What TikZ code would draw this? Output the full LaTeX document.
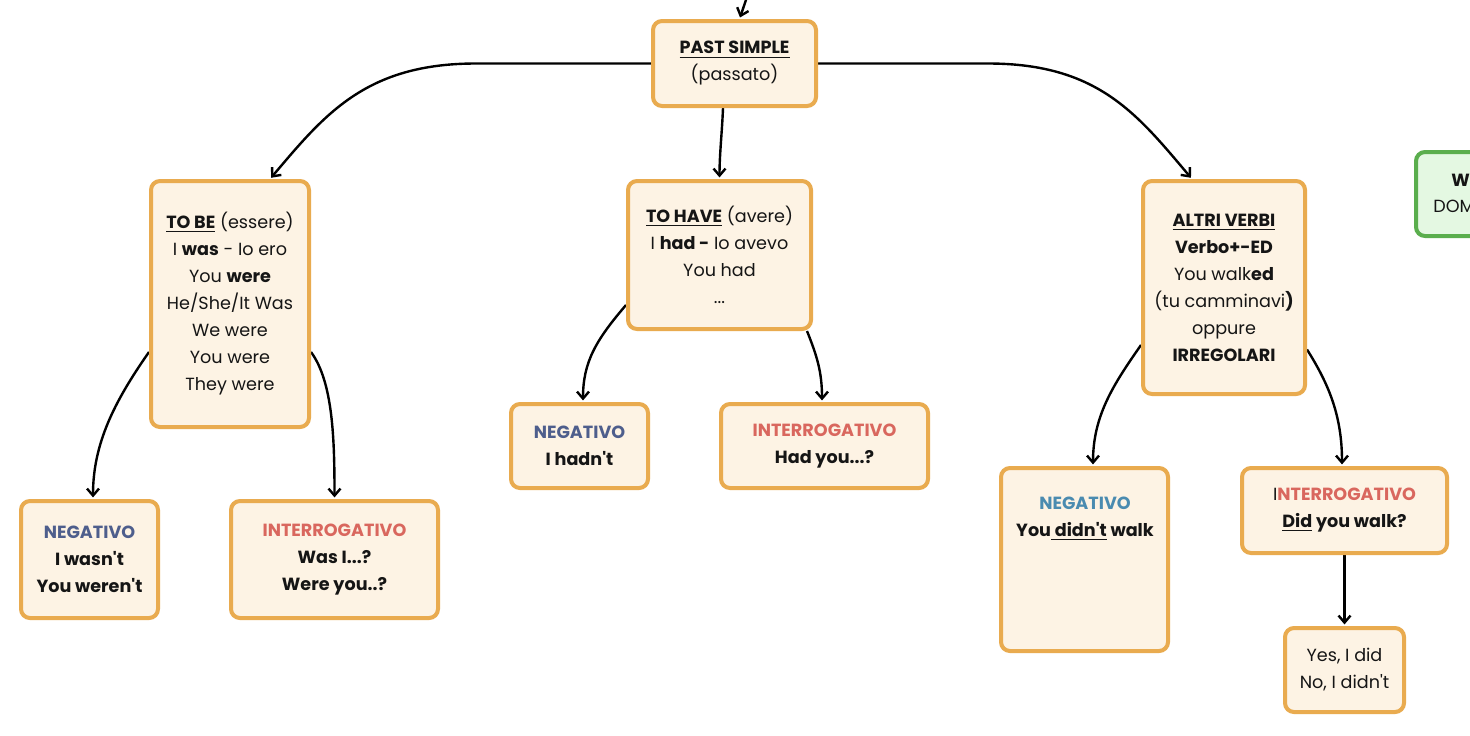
\documentclass[tikz,border=0pt]{standalone}
\usepackage{fontspec}
\setmainfont{Poppins}[Ligatures=TeXOff]
\usetikzlibrary{arrows.meta,backgrounds}
\definecolor{boxB}{HTML}{E9AB4F}
\definecolor{boxF}{HTML}{FDF3E4}
\definecolor{negA}{HTML}{4E5E8C}
\definecolor{negB}{HTML}{4A8BB0}
\definecolor{intR}{HTML}{D9675E}
\definecolor{grnB}{HTML}{5AAE4D}
\definecolor{grnF}{HTML}{E4F8E2}
\definecolor{txt}{HTML}{151515}
\tikzset{
  box/.style={draw=boxB, fill=boxF, line width=2pt, rounded corners=4.5pt, align=center, inner sep=0pt, text=txt,
    font=\fontsize{8.8pt}{13.5pt}\selectfont},
  gbox/.style={draw=grnB, fill=grnF, line width=2pt, rounded corners=4.5pt, inner sep=0pt},
  lbl/.style={inner sep=0pt, text=txt, font=\fontsize{8.8pt}{13.5pt}\selectfont, align=center},
  conn/.style={line width=1.2pt, -{Straight Barb[length=3.5pt,width=6pt]}, shorten >=0.8pt}
}
\newcommand{\ul}[1]{\underline{#1}}
\begin{document}
\begin{tikzpicture}[x=0.5pt,y=-0.5pt]
\useasboundingbox (0,0) rectangle (1470,735);
\begin{scope}
\clip (0,0) rectangle (1470,735);
\node[box, minimum width=81.5pt, minimum height=42.5pt] (past) at (734.5,63.5)
  {\ul{\textbf{PAST SIMPLE}}\\(passato)};
\node[box, minimum width=79pt, minimum height=123pt] (tobe) at (230,304)
  {\ul{\textbf{TO BE}} (essere)\\I \textbf{was} - Io ero\\You \textbf{were}\\He/She/It Was\\We were\\You were\\They were};
\node[box, minimum width=91.5pt, minimum height=74pt] (tohave) at (719.5,255)
  {\ul{\textbf{TO HAVE}} (avere)\\I \textbf{had -} Io avevo\\You had\\...};
\node[box, minimum width=81pt, minimum height=106.5pt] (altri) at (1224,287.5)
  {\ul{\textbf{ALTRI VERBI}}\\\textbf{Verbo+-ED}\\You walk\textbf{ed}\\(tu camminavi\textbf{)}\\oppure\\\textbf{IRREGOLARI}};
\node[gbox, minimum width=70pt, minimum height=42pt] (green) at (1486,194) {};
\node[lbl, anchor=west] (greenA) at (1451,180) {\textbf{W}};
\node[lbl, anchor=west] (greenB) at (1433,206) {DOM};
\node[box, minimum width=68.5pt, minimum height=58.5pt] (neg1) at (89.5,559.5)
  {\textcolor{negA}{\textbf{NEGATIVO}}\\\textbf{I wasn't}\\\textbf{You weren't}};
\node[box, minimum width=103.5pt, minimum height=58.5pt] (int1) at (334.5,559.5)
  {\textcolor{intR}{\textbf{INTERROGATIVO}}\\\textbf{Was I...?}\\\textbf{Were you..?}};
\node[box, minimum width=68.5pt, minimum height=42pt] (neg2) at (579.5,446)
  {\textcolor{negA}{\textbf{NEGATIVO}}\\\textbf{I hadn't}};
\node[box, minimum width=103.5pt, minimum height=42pt] (int2) at (824.5,446)
  {\textcolor{intR}{\textbf{INTERROGATIVO}}\\\textbf{Had you...?}};
\node[box, minimum width=83.5pt, minimum height=91.5pt] (neg3) at (1084.5,559.5) {};
\node[lbl] (neg3t) at (1085,518.5)
  {\textcolor{negB}{\textbf{NEGATIVO}}\\\textbf{You\ul{ didn't} walk}};
\node[box, minimum width=102.5pt, minimum height=42.5pt] (int3) at (1344.5,510.5)
  {I\textcolor{intR}{\textbf{NTERROGATIVO}}\\\textbf{\ul{Did} you walk?}};
\node[box, minimum width=59.5pt, minimum height=42pt] (yes) at (1344.5,670)
  {Yes, I did\\No, I didn't};
\coordinate (top) at (748,-6);
\end{scope}
\begin{scope}[on background layer]
\fill[white] (0,0) rectangle (1470,735);
\draw[conn] (top) -- ([xshift=2.5pt]past.north);
\draw[conn] (past.west) -- ++(-175,0) .. controls +(-110,0) and +(55,-65) .. ([xshift=20pt]tobe.north);
\draw[conn] (past.east) -- ++(170,0) .. controls +(110,0) and +(-55,-65) .. ([xshift=-16pt]altri.north);
\draw[conn] ([xshift=-5.75pt]past.south) .. controls +(-1,25) and +(0,-25) .. (tohave.north);
\draw[conn] ([yshift=-24pt]tobe.west) .. controls +(-35,50) and +(0,-55) .. ([xshift=1.75pt]neg1.north);
\draw[conn] ([yshift=-24pt]tobe.east) .. controls +(22,30) and +(0,-60) .. (int1.north);
\draw[conn] ([yshift=-25pt]tohave.west) .. controls +(-30,35) and +(0,-40) .. ([xshift=1.75pt]neg2.north);
\draw[conn] ([xshift=-3pt]tohave.south east) .. controls +(10,25) and +(0,-30) .. ([xshift=-1.25pt]int2.north);
\draw[conn] ([yshift=-28.75pt]altri.west) .. controls +(-28,40) and +(0,-50) .. ([xshift=4.25pt]neg3.north);
\draw[conn] ([yshift=-31pt]altri.east) .. controls +(22,35) and +(0,-50) .. ([xshift=-1.25pt]int3.north);
\draw[conn] (int3.south) -- (yes.north);
\end{scope}
\end{tikzpicture}
\end{document}
